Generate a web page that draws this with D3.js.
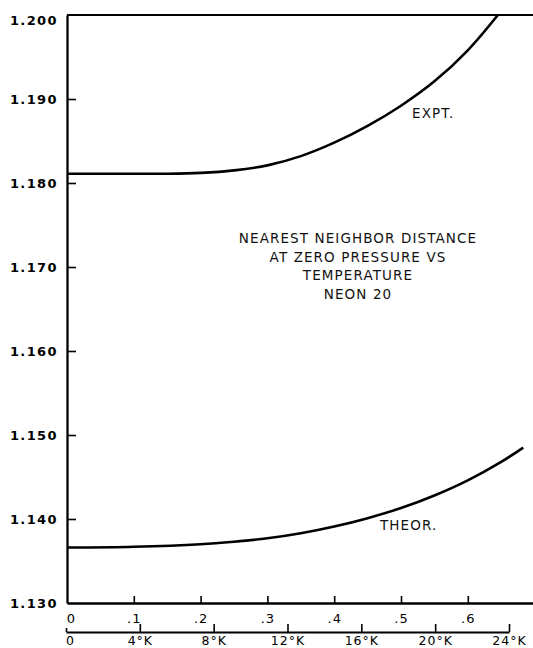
<!DOCTYPE html>
<html>
<head>
<meta charset="utf-8">
<script src="https://cdn.jsdelivr.net/npm/d3@7"></script>
<style>
  body { margin: 0; background: #fff; }
  svg { display: block; font-family: "DejaVu Sans", sans-serif; }
  .lbl { font-size: 13.5px; letter-spacing: 1.1px; fill: #111; }
</style>
</head>
<body>
<svg id="chart" width="533" height="648"></svg>
<script>
// reduced temperature T* (kT/eps) and nearest neighbor distance (reduced units)
const exptT = [0, 0.1, 0.15, 0.2, 0.25, 0.3, 0.35, 0.4, 0.45, 0.5, 0.55, 0.6, 0.645];
const exptR = [1.1811, 1.1811, 1.1811, 1.1812, 1.1815, 1.1821, 1.1832, 1.1848, 1.1868, 1.1892, 1.1921, 1.1958, 1.2000];
const theorT = [0, 0.1, 0.2, 0.25, 0.3, 0.35, 0.4, 0.45, 0.5, 0.55, 0.6, 0.65, 0.683];
const theorR = [1.1366, 1.1367, 1.1370, 1.1373, 1.1377, 1.1383, 1.1391, 1.1401, 1.1413, 1.1428, 1.1446, 1.1468, 1.1485];

const yTicks = [1.130, 1.140, 1.150, 1.160, 1.170, 1.180, 1.190, 1.200];
const xTicks = [0, 0.1, 0.2, 0.3, 0.4, 0.5, 0.6];
const kTicks = [0, 4, 8, 12, 16, 20, 24];
const titleLines = ["NEAREST NEIGHBOR DISTANCE", "AT ZERO PRESSURE VS", "TEMPERATURE", "NEON 20"];

const svg = d3.select("#chart");

const x = d3.scaleLinear().domain([0, 0.7]).range([67, 534.6]);
const xK = d3.scaleLinear().domain([0, 24]).range([66, 509]);
const y = d3.scaleLinear().domain([1.130, 1.200]).range([603, 15]);

// left axis, ticks pointing inward
const yAxis = svg.append("g")
  .attr("transform", "translate(" + x(0) + ",0)")
  .call(d3.axisLeft(y).tickValues(yTicks).tickSize(-9).tickSizeOuter(0)
    .tickFormat(d3.format(".3f")));
yAxis.select(".domain").attr("stroke-width", 2.3);
yAxis.selectAll(".tick line").attr("stroke-width", 1.6);
yAxis.selectAll(".tick text")
  .attr("x", -9)
  .attr("font-size", 13).attr("font-weight", "bold")
  .attr("letter-spacing", 1.4)
  .attr("font-family", "DejaVu Sans");
yAxis.selectAll(".tick").filter(d => d === 1.2).select("text").attr("dy", "0.75em");
yAxis.selectAll(".tick").filter(d => d === 1.13).select("line").remove();
yAxis.selectAll(".tick").filter(d => d === 1.2).select("line").remove();

// top frame line
svg.append("line")
  .attr("x1", x(0)).attr("x2", 533)
  .attr("y1", y(1.2)).attr("y2", y(1.2))
  .attr("stroke", "#000").attr("stroke-width", 2);

// reduced temperature axis
const xAxis = svg.append("g")
  .attr("transform", "translate(0," + y(1.13) + ")")
  .call(d3.axisBottom(x).tickValues(xTicks).tickSize(-7).tickSizeOuter(0)
    .tickFormat(d => d === 0 ? "0" : d3.format(".1f")(d).replace(/^0/, "")));
xAxis.select(".domain").attr("stroke-width", 2.3);
xAxis.selectAll(".tick line").attr("stroke-width", 1.6);
xAxis.selectAll(".tick").filter(d => d === 0).select("line").remove();
xAxis.selectAll(".tick text")
  .attr("y", 20).attr("dy", null)
  .attr("font-size", 13).attr("letter-spacing", 1)
  .attr("font-family", "DejaVu Sans");
xAxis.selectAll(".tick").filter(d => d === 0).select("text").attr("dx", 4);

// kelvin axis
const kAxis = svg.append("g")
  .attr("transform", "translate(0,632)")
  .call(d3.axisBottom(xK).tickValues(kTicks).tickSize(-8).tickSizeOuter(0)
    .tickFormat(d => d === 0 ? "0" : d + "°K"));
kAxis.select(".domain").attr("stroke-width", 2);
kAxis.selectAll(".tick line").attr("stroke-width", 1.6);
kAxis.selectAll(".tick").filter(d => d === 0).select("line").attr("y2", -4);
kAxis.selectAll(".tick text")
  .attr("y", 12.5).attr("dy", null)
  .attr("font-size", 12.5).attr("letter-spacing", 1)
  .attr("font-family", "DejaVu Sans");
kAxis.selectAll(".tick").filter(d => d === 0).select("text").attr("dx", 4);

// curves
const line = d3.line()
  .x(d => x(d[0]))
  .y(d => y(d[1]))
  .curve(d3.curveCatmullRom.alpha(0.5));

svg.append("path")
  .datum(exptT.map((t, i) => [t, exptR[i]]))
  .attr("d", line)
  .attr("fill", "none").attr("stroke", "#000").attr("stroke-width", 2.6);

svg.append("path")
  .datum(theorT.map((t, i) => [t, theorR[i]]))
  .attr("d", line)
  .attr("fill", "none").attr("stroke", "#000").attr("stroke-width", 2.6);

svg.append("text").attr("class", "lbl")
  .attr("x", 412).attr("y", 118).text("EXPT.");
svg.append("text").attr("class", "lbl")
  .attr("x", 380).attr("y", 530).text("THEOR.");

svg.append("g").selectAll("text")
  .data(titleLines)
  .join("text")
  .attr("class", "lbl")
  .attr("text-anchor", "middle")
  .attr("x", 358)
  .attr("y", (d, i) => 243 + i * 18.5)
  .text(d => d);
</script>
</body>
</html>
